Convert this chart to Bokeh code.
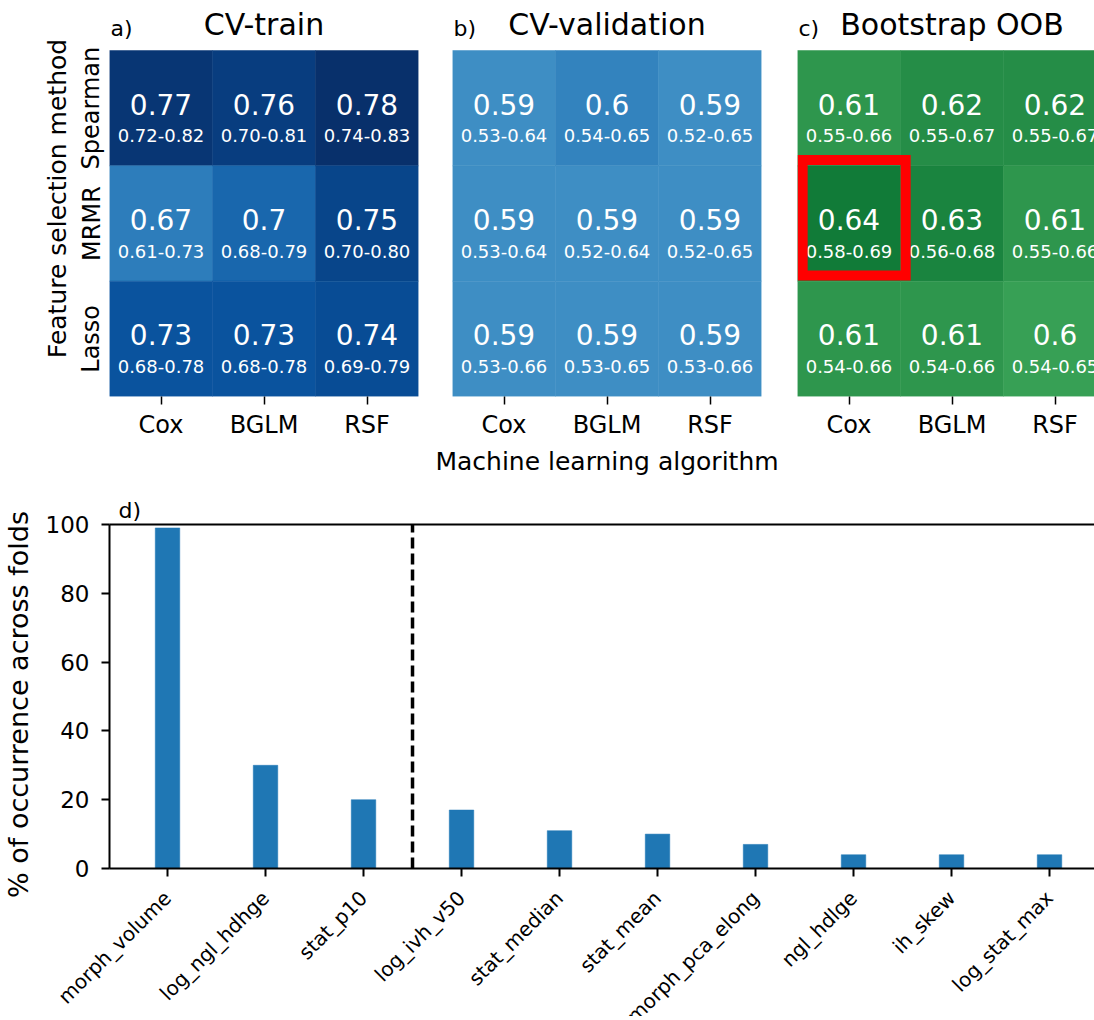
import math
import numpy as np
from bokeh.plotting import figure
from bokeh.models import (Range1d, FixedTicker, LinearAxis,
                          ColumnDataSource, LinearColorMapper)
from bokeh.transform import transform
from bokeh.palettes import Blues256, Greens256
from bokeh.layouts import column, row
from bokeh.core.properties import value
from bokeh.embed import file_html
from bokeh.resources import INLINE

FONT = "DejaVu Sans"

# ---------------- data ----------------
algorithms = ["Cox", "BGLM", "RSF"]
fs_methods = ["Spearman", "MRMR", "Lasso"]          # top to bottom

cv_train = [[0.77, 0.76, 0.78], [0.67, 0.70, 0.75], [0.73, 0.73, 0.74]]
cv_train_lo = [[0.72, 0.70, 0.74], [0.61, 0.68, 0.70], [0.68, 0.68, 0.69]]
cv_train_hi = [[0.82, 0.81, 0.83], [0.73, 0.79, 0.80], [0.78, 0.78, 0.79]]

cv_val = [[0.59, 0.60, 0.59], [0.59, 0.59, 0.59], [0.59, 0.59, 0.59]]
cv_val_lo = [[0.53, 0.54, 0.52], [0.53, 0.52, 0.52], [0.53, 0.53, 0.53]]
cv_val_hi = [[0.64, 0.65, 0.65], [0.64, 0.64, 0.65], [0.66, 0.65, 0.66]]

oob = [[0.61, 0.62, 0.62], [0.64, 0.63, 0.61], [0.61, 0.61, 0.60]]
oob_lo = [[0.55, 0.55, 0.55], [0.58, 0.56, 0.55], [0.54, 0.54, 0.54]]
oob_hi = [[0.66, 0.67, 0.67], [0.69, 0.68, 0.66], [0.66, 0.66, 0.65]]

features = ["morph_volume", "log_ngl_hdhge", "stat_p10", "log_ivh_v50",
            "stat_median", "stat_mean", "morph_pca_elong", "ngl_hdlge",
            "ih_skew", "log_stat_max"]
occurrence = [99, 30, 20, 17, 11, 10, 7, 4, 4, 4]
n_final_features = 3
y_ticks = [0, 20, 40, 60, 80, 100]

# ---------------- layout constants ----------------
COL_W = 103
ROW_H = 346 / 3
HEAD = 50           # space above heatmap cells (title area, inside frame)
TOP_H = 485
TOTAL_H = 1016
BOT_H = TOTAL_H - TOP_H


def heatmap(vals, lo, hi, palette, low, high, title, letter,
            left_b, right_b, x_end, show_y=False, xlabel=None, highlight=False):
    frame_w = int(round((x_end + 0.5) * COL_W))
    y_top = 2.5 + HEAD / ROW_H
    p = figure(width=left_b + frame_w + right_b, height=TOP_H, title=None,
               x_range=Range1d(-0.5, x_end), y_range=Range1d(-0.5, y_top),
               x_axis_type=None, y_axis_type=None,
               output_backend="svg", toolbar_location=None,
               min_border_left=left_b, min_border_right=right_b,
               min_border_top=0, min_border_bottom=TOP_H - 396)
    p.outline_line_color = None
    p.background_fill_color = "white"

    xs, ys, v, big, rng = [], [], [], [], []
    n = len(fs_methods)
    for i, m in enumerate(fs_methods):
        for j, a in enumerate(algorithms):
            xs.append(j)
            ys.append(n - 1 - i)
            v.append(vals[i][j])
            big.append("{:.2g}".format(vals[i][j]))
            rng.append("{:.2f}-{:.2f}".format(lo[i][j], hi[i][j]))
    ys = np.array(ys, dtype=float)
    src = ColumnDataSource(dict(x=xs, y=ys, v=v, big=big, rng=rng,
                                yb=ys + 4 / ROW_H, yr=ys - 27.5 / ROW_H))
    mapper = LinearColorMapper(palette=list(reversed(palette)), low=low, high=high)
    p.rect(x="x", y="y", width=1, height=1, source=src,
           fill_color=transform("v", mapper), line_color=transform("v", mapper),
           line_width=0.5)
    p.text(x="x", y="yb", text="big", source=src, text_color="white",
           text_font=value(FONT), text_font_size="28px",
           text_align="center", text_baseline="alphabetic")
    p.text(x="x", y="yr", text="rng", source=src, text_color="white",
           text_font=value(FONT), text_font_size="18px",
           text_align="center", text_baseline="alphabetic")

    if highlight:
        arr = np.array(vals)
        bi, bj = np.unravel_index(np.argmax(arr), arr.shape)
        p.rect(x=[bj + 0.05], y=[n - 1 - bi + 0.05], width=1, height=1,
               fill_color=None, line_color="#ff0000", line_width=10,
               line_join="miter")

    # panel title and letter, drawn in the head area of the frame
    p.text(x=[1], y=[2.5 + 26 / ROW_H], text=[title], text_color="black",
           text_font=value(FONT), text_font_size="30px",
           text_align="center", text_baseline="alphabetic")
    p.text(x=[-0.5 + 1 / COL_W], y=[2.5 + 22 / ROW_H], text=[letter],
           text_color="black", text_font=value(FONT), text_font_size="22px",
           text_align="left", text_baseline="alphabetic")

    xa = LinearAxis(ticker=FixedTicker(ticks=list(range(len(algorithms)))),
                    major_label_overrides={k: a for k, a in enumerate(algorithms)})
    xa.axis_line_color = None
    xa.major_tick_out = 8
    xa.major_tick_in = 0
    xa.major_tick_line_width = 1.5
    xa.minor_tick_line_color = None
    xa.major_label_standoff = 6
    xa.major_label_text_font = FONT
    xa.major_label_text_font_size = "24px"
    xa.major_label_text_color = "black"
    if xlabel:
        xa.axis_label = xlabel
        xa.axis_label_text_font = FONT
        xa.axis_label_text_font_size = "25px"
        xa.axis_label_text_font_style = "normal"
        xa.axis_label_text_color = "black"
        xa.axis_label_standoff = 5
    p.add_layout(xa, "below")

    if show_y:
        ya = LinearAxis(ticker=FixedTicker(ticks=list(range(n))),
                        major_label_overrides={n - 1 - k: m for k, m in enumerate(fs_methods)})
        ya.axis_line_color = None
        ya.major_tick_out = 0
        ya.major_tick_in = 0
        ya.minor_tick_line_color = None
        ya.major_label_orientation = "vertical"
        ya.major_label_standoff = 4
        ya.major_label_text_font = FONT
        ya.major_label_text_font_size = "24px"
        ya.major_label_text_color = "black"
        ya.axis_label = "Feature selection method"
        ya.axis_label_text_font = FONT
        ya.axis_label_text_font_size = "25px"
        ya.axis_label_text_font_style = "normal"
        ya.axis_label_text_color = "black"
        ya.axis_label_standoff = 3
        p.add_layout(ya, "left")
    return p


pa = heatmap(cv_train, cv_train_lo, cv_train_hi, Blues256, 0.405, 0.78,
             "CV-train", "a)", 109, 17, 2.5, show_y=True)
pb = heatmap(cv_val, cv_val_lo, cv_val_hi, Blues256, 0.43, 0.68,
             "CV-validation", "b)", 17, 18, 2.5, xlabel="Machine learning algorithm")
pc = heatmap(oob, oob_lo, oob_hi, Greens256, 0.42, 0.69,
             "Bootstrap OOB", "c)", 18, 0, -0.5 + 297 / COL_W, highlight=True)

# ---------------- bar chart ----------------
# The frame covers the whole canvas; the axes sit at fixed data locations so
# that the long rotated labels can run into the margins like in the original.
LEFT_D = 109           # px from canvas left to the y spine
TOP_B = 39             # px from canvas top to the 100 % line
FRAME_H = 344          # px between 0 and 100 %
PX_X = 98.0            # px per category
PX_Y = FRAME_H / 100.0 # px per percent
X0 = -0.592
XL = X0 - LEFT_D / PX_X
XR = X0 + (1094 - LEFT_D) / PX_X
Y1 = max(y_ticks)
YT = Y1 + TOP_B / PX_Y
YB = -(BOT_H - TOP_B - FRAME_H) / PX_Y

pd_ = figure(width=1094, height=BOT_H, title=None,
             x_range=Range1d(XL, XR), y_range=Range1d(YB, YT),
             x_axis_type=None, y_axis_type=None,
             output_backend="svg", toolbar_location=None,
             min_border_left=0, min_border_right=0,
             min_border_top=0, min_border_bottom=0)
pd_.outline_line_color = None
pd_.background_fill_color = "white"

idx = list(range(len(features)))
pd_.vbar(x=idx, top=occurrence, width=0.25, fill_color="#1f77b4",
         line_color="#1f77b4", line_width=0.5)
xd = n_final_features - 0.5
pd_.segment(x0=[xd], y0=[0], x1=[xd], y1=[Y1], line_color="black",
            line_width=3.5, line_dash="11 5")

bx = LinearAxis(ticker=FixedTicker(ticks=idx), fixed_location=0, bounds=(X0, XR),
                major_label_overrides={i: f for i, f in enumerate(features)})
bx.axis_line_width = 2
bx.major_tick_out = 8
bx.major_tick_in = 0
bx.major_tick_line_width = 2
bx.minor_tick_line_color = None
bx.major_label_orientation = math.pi / 4
bx.major_label_standoff = 18
bx.major_label_text_font = FONT
bx.major_label_text_font_size = "20px"
bx.major_label_text_color = "black"
pd_.add_layout(bx, "below")

by = LinearAxis(ticker=FixedTicker(ticks=y_ticks), fixed_location=X0, bounds=(0, Y1))
by.axis_line_width = 2
by.major_tick_out = 8
by.major_tick_in = 0
by.major_tick_line_width = 2
by.minor_tick_line_color = None
by.major_label_standoff = 12
by.major_label_text_font = FONT
by.major_label_text_font_size = "23px"
by.major_label_text_color = "black"
pd_.add_layout(by, "left")

top = LinearAxis(ticker=FixedTicker(ticks=[]), fixed_location=Y1, bounds=(X0, XR))
top.axis_line_width = 2
top.major_tick_out = 0
top.major_tick_in = 0
top.minor_tick_line_color = None
top.major_label_standoff = 0
top.major_label_text_font_size = "0px"
pd_.add_layout(top, "above")

# y axis title and panel letter
pd_.text(x=[X0 - 91 / PX_X], y=[Y1 / 2 - 8 / PX_Y], text=["% of occurrence across folds"],
         angle=math.pi / 2, text_color="black", text_font=value(FONT),
         text_font_size="27px", text_align="center", text_baseline="middle")
pd_.text(x=[X0 + 9 / PX_X], y=[Y1 + 14 / PX_Y], text=["d)"],
         text_color="black", text_font=value(FONT), text_font_size="22px",
         text_align="left", text_baseline="alphabetic")

layout = column(row(pa, pb, pc), pd_)
open("out.html", "w").write(file_html(layout, INLINE))
